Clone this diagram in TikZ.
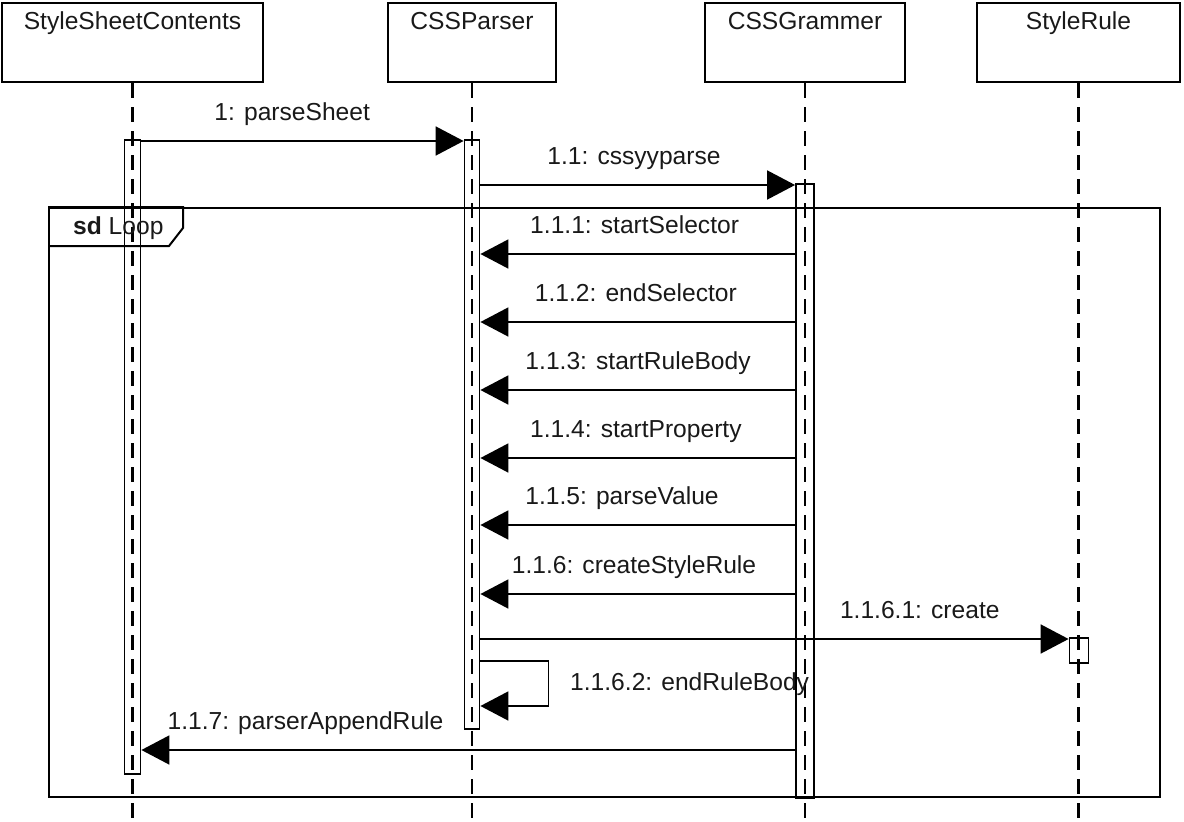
\documentclass[tikz,border=0pt]{standalone}
\usepackage{fontspec}
\setmainfont{Liberation Sans}
\usetikzlibrary{arrows.meta}
\begin{document}
\begin{tikzpicture}[x=1pt,y=-1pt,
  every node/.style={font=\fontsize{24.6}{28}\selectfont, text=black!90},
  part/.style={draw, line width=2pt, minimum height=79pt, inner sep=0pt},
  ptext/.style={anchor=base, yshift=-27pt, inner sep=0pt},
  life/.style={line width=2.2pt, dash pattern=on 15pt off 9pt},
  act/.style={draw, line width=1.8pt, inner sep=0pt, anchor=north},
  msg/.style={line width=1.8pt, -{Triangle[length=28pt,width=29pt]}},
  mlbl/.style={anchor=base, yshift=21pt, inner sep=0pt},
  frm/.style={draw, line width=2pt}]
\useasboundingbox (0,0) rectangle (1184,822);
% participants
\node[part, minimum width=261pt] (ssc) at (132.5,42.5) {};
\node[ptext] at (ssc.north) {StyleSheetContents};
\node[part, minimum width=168pt] (cp) at (472,42.5) {};
\node[ptext] at (cp.north) {CSSParser};
\node[part, minimum width=200pt] (cg) at (805,42.5) {};
\node[ptext] at (cg.north) {CSSGrammer};
\node[part, minimum width=203pt] (sr) at (1078.5,42.5) {};
\node[ptext] at (sr.north) {StyleRule};
% lifelines
\draw[life] (ssc.south) -- (ssc.south |- 0,822);
\draw[life] (cp.south) -- (cp.south |- 0,822);
\draw[life] (cg.south) -- (cg.south |- 0,822);
\draw[life] (sr.south) -- (sr.south |- 0,822);
% activation bars
\node[act, minimum width=16pt, minimum height=634pt] (a1) at (132.5,139) {};
\node[act, minimum width=15pt, minimum height=589pt] (a2) at (472,139) {};
\node[act, minimum width=18pt, minimum height=614pt] (a3) at (805,183) {};
\node[act, minimum width=19pt, minimum height=25pt] (a4) at (1079,637) {};
% loop frame
\node[frm, minimum width=1111pt, minimum height=589pt, inner sep=0pt, anchor=north west] (loop) at (48,207) {};
\draw[frm] (loop.north west) -- ++(135,0) -- ++(0,21) -- ++(-14,18) -- (loop.north west |- 0,246);
\node[anchor=base west, inner sep=0pt] at (73,234) {\textbf{sd} Loop};
% messages
\draw[msg] (a1.east |- 0,141) -- (a2.west |- 0,141) node[mlbl, pos=0.468] {1: parseSheet};
\draw[msg] (a2.east |- 0,185) -- (a3.west |- 0,185) node[mlbl, pos=0.488] {1.1: cssyyparse};
\draw[msg] (a3.west |- 0,254) -- (a2.east |- 0,254) node[mlbl, pos=0.510] {1.1.1: startSelector};
\draw[msg] (a3.west |- 0,322) -- (a2.east |- 0,322) node[mlbl, pos=0.506] {1.1.2: endSelector};
\draw[msg] (a3.west |- 0,390) -- (a2.east |- 0,390) node[mlbl, pos=0.499] {1.1.3: startRuleBody};
\draw[msg] (a3.west |- 0,458) -- (a2.east |- 0,458) node[mlbl, pos=0.506] {1.1.4: startProperty};
\draw[msg] (a3.west |- 0,525) -- (a2.east |- 0,525) node[mlbl, pos=0.550] {1.1.5: parseValue};
\draw[msg] (a3.west |- 0,594) -- (a2.east |- 0,594) node[mlbl, pos=0.512] {1.1.6: createStyleRule};
\draw[msg] (a2.east |- 0,639) -- (a4.west |- 0,639) node[mlbl, pos=0.747] {1.1.6.1: create};
\draw[msg] (a2.east |- 0,661) -- ++(68,0) -- ++(0,45) -- (a2.east |- 0,706);
\node[anchor=base west, inner sep=0pt] at (570,690) {1.1.6.2: endRuleBody};
\draw[msg] (a3.west |- 0,750) -- (a1.east |- 0,750) node[mlbl, pos=0.749] {1.1.7: parserAppendRule};
\end{tikzpicture}
\end{document}
